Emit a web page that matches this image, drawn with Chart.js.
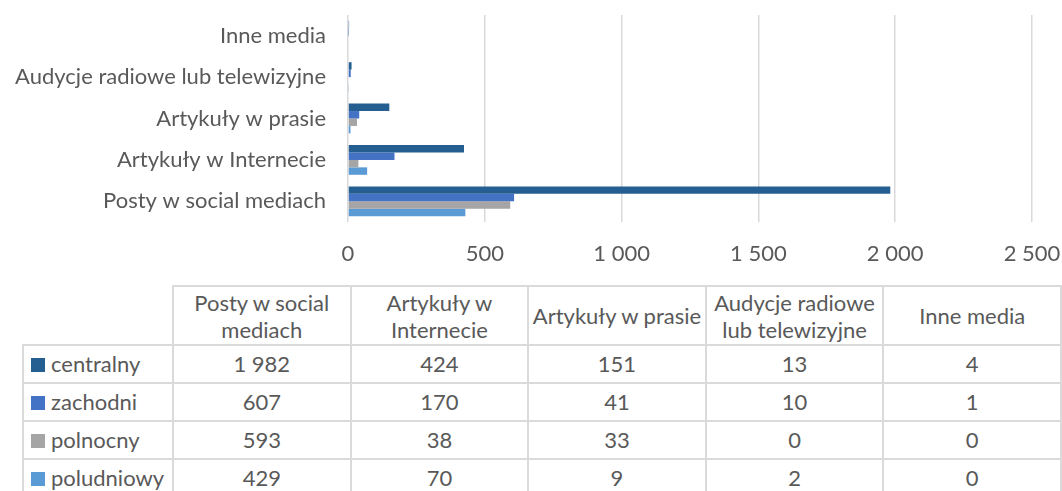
<!DOCTYPE html>
<html>
<head>
<meta charset="utf-8">
<script src="https://cdn.jsdelivr.net/npm/chart.js@4"></script>
<style>
  body { margin: 0; width: 1062px; height: 491px; overflow: hidden; background: #fff;
         font-family: Lato, "Open Sans", sans-serif; color: #595959; position: relative; }
  #chartBox { position: absolute; left: 0; top: 0; width: 1062px; height: 270px; }
  #dataTable { position: absolute; left: 22px; top: 285px; border-collapse: collapse;
               table-layout: fixed; font-size: 22px; color: #595959; }
  #dataTable td { border: 2px solid #DADADA; padding: 0; text-align: center; height: 36px; line-height: 26px; }
  #dataTable tr.head td { height: 57px; line-height: 27px; padding: 0 2px; }
  #dataTable td.corner { border-top: none; border-left: none; }
  #dataTable td.name { text-align: left; padding-left: 7px; white-space: nowrap; }
  .key { display: inline-block; width: 14px; height: 14px; margin-right: 6px; vertical-align: 0px; }
</style>
</head>
<body>
<div id="chartBox"><canvas id="chart" width="1062" height="270"></canvas></div>
<table id="dataTable"></table>
<script>
// ---------- dane ----------
const categories = ["Posty w social mediach", "Artykuły w Internecie", "Artykuły w prasie",
                    "Audycje radiowe lub telewizyjne", "Inne media"];
const seriesNames = ["centralny", "zachodni", "polnocny", "poludniowy"];
const centralny  = [1982, 424, 151, 13, 4];
const zachodni   = [607, 170, 41, 10, 1];
const polnocny   = [593, 38, 33, 0, 0];
const poludniowy = [429, 70, 9, 2, 0];
const xTicks = [0, 500, 1000, 1500, 2000, 2500];

const seriesValues = [centralny, zachodni, polnocny, poludniowy];
const seriesColors = ["#255E91", "#4472C4", "#A5A5A5", "#5B9BD5"];

// separator tysięcy jak w Excelu: "1 000"
function fmt(v) {
  return String(v).replace(/\B(?=(\d{3})+(?!\d))/g, " ");
}

// ---------- wykres ----------
Chart.defaults.font.family = "Lato, 'Open Sans', sans-serif";
Chart.defaults.font.size = 22;
Chart.defaults.color = "#595959";

new Chart(document.getElementById("chart"), {
  type: "bar",
  data: {
    labels: categories,
    datasets: seriesNames.map((name, i) => ({
      label: name,
      data: seriesValues[i],
      backgroundColor: seriesColors[i],
      barPercentage: 1,
      categoryPercentage: 0.72
    }))
  },
  options: {
    indexAxis: "y",
    responsive: false,
    animation: false,
    layout: { padding: { top: 15, right: 30, left: 0, bottom: 0 } },
    plugins: { legend: { display: false }, tooltip: { enabled: false } },
    scales: {
      x: {
        min: xTicks[0],
        max: xTicks[xTicks.length - 1],
        afterBuildTicks: s => { s.ticks = xTicks.map(v => ({ value: v })); },
        afterFit: s => { s.height = 48; s.paddingLeft = 0; s.paddingRight = 0; },
        ticks: { padding: 19, callback: v => fmt(v) },
        grid: { color: "#D9D9D9", lineWidth: 1.5, drawTicks: false },
        border: { display: false }
      },
      y: {
        reverse: true,
        afterFit: s => { s.width = 348; s.paddingTop = 0; s.paddingBottom = 0; },
        ticks: { padding: 22 },
        grid: { display: false, drawTicks: false },
        border: { display: false }
      }
    }
  }
});

// ---------- tabela danych ----------
const table = document.getElementById("dataTable");
const colgroup = document.createElement("colgroup");
[150, 177.6, 177.6, 177.6, 177.6, 177.6].forEach(w => {
  const c = document.createElement("col");
  c.style.width = w + "px";
  colgroup.appendChild(c);
});
table.appendChild(colgroup);

const head = document.createElement("tr");
head.className = "head";
head.innerHTML = '<td class="corner"></td>' + categories.map(c => `<td>${c}</td>`).join("");
table.appendChild(head);

seriesNames.forEach((name, i) => {
  const tr = document.createElement("tr");
  tr.innerHTML = `<td class="name"><span class="key" style="background:${seriesColors[i]}"></span>${name}</td>` +
    seriesValues[i].map(v => `<td>${fmt(v)}</td>`).join("");
  table.appendChild(tr);
});
</script>
</body>
</html>
